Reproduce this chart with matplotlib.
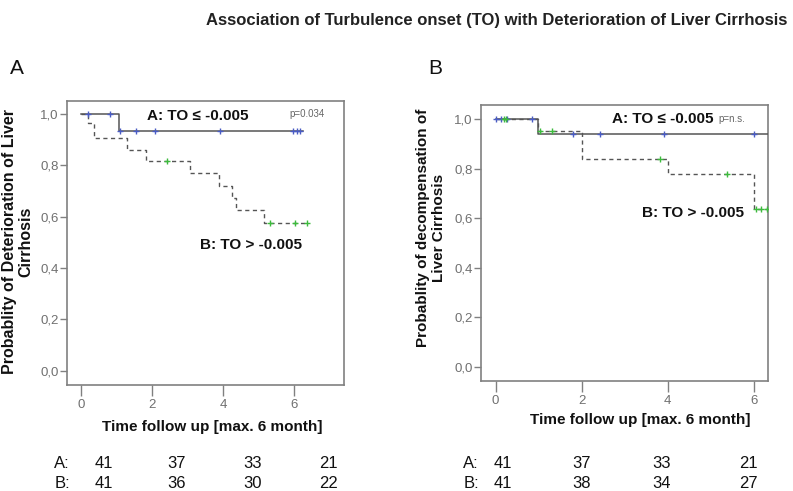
import numpy as np
import matplotlib
matplotlib.use("Agg")
import matplotlib.pyplot as plt

plt.rcParams['font.family'] = ['Liberation Sans', 'DejaVu Sans']

W, H = 793, 491

# ---------------- data ----------------
# Panel A: Deterioration of liver cirrhosis
a1_times = [0.0, 1.07, 6.25]
a1_surv = [1.0, 0.935, 0.935]
a1_cens = [0.2, 0.82, 1.1, 1.55, 2.08, 3.9, 5.97, 6.08, 6.17]

b1_times = [0.0, 0.2, 0.35, 1.29, 1.82, 3.07, 3.89, 4.25, 4.37, 5.14, 6.4]
b1_surv = [1.0, 0.964, 0.905, 0.86, 0.817, 0.769, 0.721, 0.672, 0.624, 0.577, 0.577]
b1_cens = [2.41, 5.33, 6.03, 6.37]

# Panel B: Decompensation of liver cirrhosis
a2_times = [0.0, 0.99, 6.4]
a2_surv = [1.0, 0.938, 0.938]
a2_cens = [0.0, 0.12, 0.27, 0.85, 1.8, 2.43, 3.92, 6.0]

b2_times = [0.0, 0.99, 2.0, 4.01, 6.0, 6.4]
b2_surv = [1.0, 0.953, 0.841, 0.780, 0.638, 0.638]
b2_cens = [0.2, 0.25, 1.02, 1.3, 3.83, 5.37, 6.05, 6.16, 6.3]

xticks = [0, 2, 4, 6]
yticks = [0.0, 0.2, 0.4, 0.6, 0.8, 1.0]
ytick_labels = ["0,0", "0,2", "0,4", "0,6", "0,8", "1,0"]

risk_A1 = [41, 37, 33, 21]
risk_B1 = [41, 36, 30, 22]
risk_A2 = [41, 37, 33, 21]
risk_B2 = [41, 38, 34, 27]

title = "Association of Turbulence onset (TO) with Deterioration of Liver Cirrhosis"

# ---------------- styling ----------------
LINE_COL = "#555555"
BLUE = "#4a5cc4"
GREEN = "#3dbb3d"
AX_COL = "#808080"
TICK_COL = "#707070"


def fx(x):
    return x / W


def fy(y):
    return 1 - y / H


def surv_at(times, surv, t):
    idx = np.searchsorted(times, t, side="right") - 1
    return surv[max(idx, 0)]


def draw_panel(ax, at, asv, ac, bt, bsv, bc, xlim, ylim):
    ax.step(at, asv, where="post", color=LINE_COL, lw=1.1, zorder=3)
    ax.step(bt, bsv, where="post", color=LINE_COL, lw=1.0, ls=(0, (3, 2.5)), zorder=2)
    ax.plot(ac, [surv_at(at, asv, t) for t in ac], ls="none", marker="+",
            ms=5, mew=1.0, color=BLUE, zorder=4)
    ax.plot(bc, [surv_at(bt, bsv, t) for t in bc], ls="none", marker="+",
            ms=5, mew=1.0, color=GREEN, zorder=4)
    ax.set_xlim(*xlim)
    ax.set_ylim(*ylim)
    ax.set_xticks(xticks)
    ax.set_xticklabels([str(v) for v in xticks])
    ax.set_yticks(yticks)
    ax.set_yticklabels(ytick_labels)
    for s in ax.spines.values():
        s.set_color(AX_COL)
        s.set_linewidth(1.2)
    ax.tick_params(axis="both", direction="out", length=5, width=1.0,
                   color=AX_COL, labelcolor=TICK_COL, labelsize=9.5, pad=1)
    ax.tick_params(axis="x", length=8, pad=2)


fig = plt.figure(figsize=(W / 100, H / 100), dpi=100)

ax1 = fig.add_axes([fx(67), fy(385), fx(344) - fx(67), fy(101) - fy(385)])
draw_panel(ax1, a1_times, a1_surv, a1_cens, b1_times, b1_surv, b1_cens,
           (-0.4, 7.4), (-0.055, 1.05))

ax2 = fig.add_axes([fx(481), fy(381), fx(768) - fx(481), fy(105) - fy(381)])
draw_panel(ax2, a2_times, a2_surv, a2_cens, b2_times, b2_surv, b2_cens,
           (-0.34, 6.33), (-0.057, 1.057))

# ---------------- texts ----------------
fig.text(fx(497), fy(20), title, ha="center", va="center", fontsize=12,
         fontweight="bold", color="#222222")
fig.text(fx(17), fy(69), "A", ha="center", va="center", fontsize=15, color="#111111")
fig.text(fx(435), fy(69), "B", ha="center", va="center", fontsize=15, color="#111111")

# inside-plot labels
fig.text(fx(147), fy(116), "A: TO \u2264 -0.005", ha="left", va="center",
         fontsize=11, fontweight="bold", color="#111111")
fig.text(fx(289), fy(114), "p=0.034", ha="left", va="center", fontsize=7,
         color="#666666")
fig.text(fx(200), fy(245), "B: TO > -0.005", ha="left", va="center",
         fontsize=11, fontweight="bold", color="#111111")

fig.text(fx(612), fy(119), "A: TO \u2264 -0.005", ha="left", va="center",
         fontsize=11, fontweight="bold", color="#111111")
fig.text(fx(718), fy(119), "p=n.s.", ha="left", va="center", fontsize=7,
         color="#666666")
fig.text(fx(642), fy(213), "B: TO > -0.005", ha="left", va="center",
         fontsize=11, fontweight="bold", color="#111111")

# y labels
fig.text(fx(18), fy(242), "Probablity of Deterioration of Liver\nCirrhosis",
         rotation=90, ha="center", va="center", multialignment="center",
         fontsize=11.5, fontweight="bold", color="#111111", linespacing=1.1)
fig.text(fx(431), fy(228), "Probablity of decompensation of\nLiver Cirrhosis",
         rotation=90, ha="center", va="center", multialignment="center",
         fontsize=11, fontweight="bold", color="#111111", linespacing=1.1)

# x labels
fig.text(fx(212), fy(427), "Time follow up [max. 6 month]", ha="center",
         va="center", fontsize=11, fontweight="bold", color="#111111")
fig.text(fx(640), fy(420), "Time follow up [max. 6 month]", ha="center",
         va="center", fontsize=11, fontweight="bold", color="#111111")

# numbers at risk
risk_x1 = [104, 177, 253, 328]
risk_x2 = [503, 582, 662, 748]
for lab, vals, y in (("A:", risk_A1, 464), ("B:", risk_B1, 483)):
    fig.text(fx(62), fy(y), lab, ha="center", va="center", fontsize=12, color="#111111")
    for xv, v in zip(risk_x1, vals):
        fig.text(fx(xv), fy(y), str(v), ha="center", va="center", fontsize=12,
                 color="#111111")
for lab, vals, y in (("A:", risk_A2, 464), ("B:", risk_B2, 483)):
    fig.text(fx(471), fy(y), lab, ha="center", va="center", fontsize=12, color="#111111")
    for xv, v in zip(risk_x2, vals):
        fig.text(fx(xv), fy(y), str(v), ha="center", va="center", fontsize=12,
                 color="#111111")

fig.savefig("out.png", dpi=100)
